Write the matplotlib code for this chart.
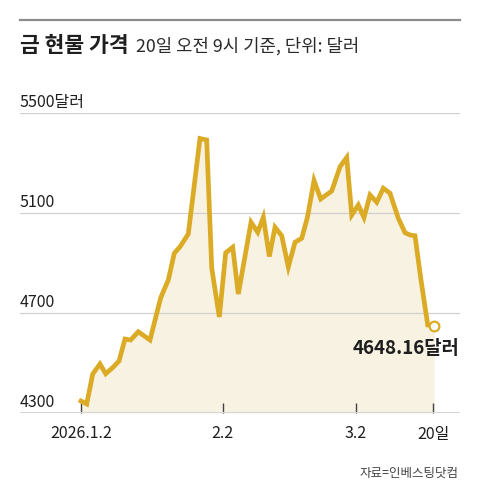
import matplotlib
matplotlib.use("Agg")
import matplotlib.pyplot as plt

plt.rcParams['font.family'] = ['Noto Sans CJK KR', 'DejaVu Sans']

# days after 2026-01-02
days = [0, 1.25, 2.56, 4.15, 5.40, 7.06, 8.31, 9.62, 10.86, 12.52,
        15.08, 17.42, 19.08, 20.39, 21.64, 23.45, 26.0, 27.47, 28.57, 30.23,
        31.63, 33.16, 34.38, 37.16, 38.62, 39.85, 41.16, 42.40, 43.87, 45.31,
        46.77, 48.24, 49.50, 50.93, 52.39, 54.80, 56.61, 58.07, 59.17, 60.61,
        61.85, 63.17, 64.63, 66.07, 67.54, 69.35, 70.82, 71.91, 73.0, 74.25,
        75.78, 77.2]
prices = [4348, 4336, 4456, 4496, 4457, 4484, 4508, 4596, 4592, 4625,
          4592, 4761, 4832, 4939, 4965, 5016, 5398, 5392, 4880, 4684,
          4941, 4963, 4776, 5063, 5023, 5083, 4926, 5043, 5009, 4884,
          4983, 4999, 5084, 5230, 5156, 5188, 5285, 5322, 5092, 5132,
          5082, 5172, 5143, 5199, 5179, 5079, 5021, 5012, 5009, 4839,
          4652, 4648.16]

tick_days = [0, 31, 60, 77]
tick_labels = ['2026.1.2', '2.2', '3.2', '20일']
grid_values = [5500, 5100, 4700, 4300]
grid_labels = ['5500달러', '5100', '4700', '4300']

gold = '#dcab26'
fill = '#f8f2e2'

fig = plt.figure(figsize=(4.8, 5), dpi=100)
ax = fig.add_axes([20 / 480, 87 / 500, 440 / 480, 300 / 500])

ax.fill_between(days, prices, 4300, color=fill, lw=0, zorder=1)
for v in grid_values[:-1]:
    ax.axhline(v, color='#d0d0d0', lw=0.9, zorder=2)
ax.axhline(4300, color='#d6d6d6', lw=1.5, zorder=2)
ax.plot(days, prices, color=gold, lw=3.4, solid_joinstyle='miter', zorder=3)
ax.plot(days[-1], prices[-1], 'o', ms=7, mfc='white', mec=gold, mew=1.6, zorder=4)

ax.annotate(f'{prices[-1]:.2f}달러', (days[-1], prices[-1]), xytext=(18, -16),
            textcoords='offset points', ha='right', va='center',
            fontsize=13.5, fontweight='bold', color='#1e1e1e', zorder=5)

for v, lab in zip(grid_values, grid_labels):
    ax.annotate(lab, (0, v), xycoords=('axes fraction', 'data'), xytext=(0, 4.5),
                textcoords='offset points', ha='left', va='baseline',
                fontsize=11.5, color='#1e1e1e')

ax.set_xlim(-13.33, 82.83)
ax.set_ylim(4300, 5500)
ax.set_xticks(tick_days)
ax.set_xticklabels(tick_labels, fontsize=11.5, color='#1e1e1e')
ax.set_yticks([])
ax.tick_params(axis='x', direction='in', length=7, width=1, color='#444444', pad=9)
for s in ax.spines.values():
    s.set_visible(False)
ax.patch.set_alpha(0)

# header
fig.add_artist(plt.Line2D([20 / 480, 460 / 480], [1 - 19.5 / 500] * 2,
                          color='#8c8c8c', lw=1.6))
title = fig.text(20 / 480, 1 - 52 / 500, '금 현물 가격', fontsize=15.5,
                 fontweight='bold', color='#1e1e1e', va='baseline')
fig.canvas.draw()
bb = title.get_window_extent()
fig.text((bb.x1 + 8) / 480, 1 - 52 / 500, '20일 오전 9시 기준, 단위: 달러',
         fontsize=12.8, color='#2a2a2a', va='baseline')

fig.text(459 / 480, 1 - 477 / 500, '자료=인베스팅닷컴', fontsize=9,
         color='#444444', ha='right', va='baseline')

fig.savefig('out.png', dpi=100)
